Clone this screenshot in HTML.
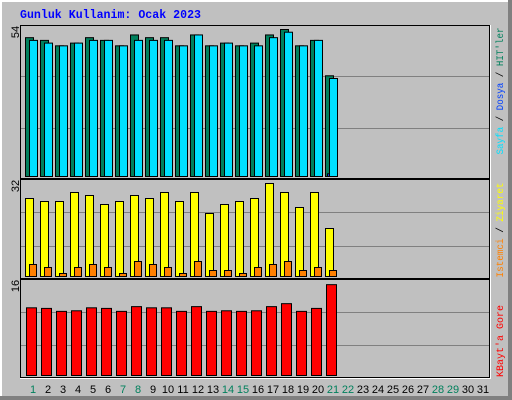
<!DOCTYPE html>
<html><head><meta charset="utf-8"><style>
html,body{margin:0;padding:0;background:#c0c0c0;}
svg{display:block;}
</style></head><body>
<svg id="c" width="512" height="400" xmlns="http://www.w3.org/2000/svg">
<rect x="0" y="0" width="512" height="400" fill="#c0c0c0"/>
<rect x="0" y="0" width="512" height="2" fill="#ffffff"/>
<rect x="0" y="0" width="2" height="400" fill="#ffffff"/>
<rect x="508" y="0" width="4" height="400" fill="#808080"/>
<rect x="0" y="396" width="512" height="4" fill="#808080"/>
<text x="20" y="18" font-family="Liberation Mono, monospace" font-size="12" font-weight="bold" fill="#0000ff" textLength="181" lengthAdjust="spacingAndGlyphs">Gunluk Kullanim: Ocak 2023</text>
<g id="g"></g>
</svg>
<script>
const days = [1,2,3,4,5,6,7,8,9,10,11,12,13,14,15,16,17,18,19,20,21,22,23,24,25,26,27,28,29,30,31];
const weekendDays = [1,7,8,14,15,21,22,28,29];
const hits = [51,50,48,49,51,50,48,52,51,51,48,52,48,49,48,49,52,54,48,50,37];
const files = [50,49,48,49,50,50,48,50,50,50,48,52,48,49,48,48,51,53,48,50,36];
const pages = [0,0,0,0,0,0,0,0,0,0,0,0,0,0,0,0,0,0,0,0,1];
const visits = [26,25,25,28,27,24,25,27,26,28,25,28,21,24,25,26,31,28,23,28,16];
const sites = [4,3,1,3,4,3,1,5,4,3,1,5,2,2,1,3,4,5,2,3,2];
const kbytes = [11.4,11.3,10.8,10.9,11.4,11.3,10.8,11.6,11.4,11.4,10.8,11.6,10.8,10.9,10.8,10.9,11.6,12.1,10.8,11.3,15.3];
const maxTop = 54, maxMid = 32, maxBot = 16;

const NS = "http://www.w3.org/2000/svg";
const g = document.getElementById('g');
function mk(tag, attrs, name, parent){
  const e = document.createElementNS(NS, tag);
  for (const k in attrs) e.setAttribute(k, attrs[k]);
  
  
  (parent||g).appendChild(e);
  return e;
}
const panels = [
  {top:25, bottom:179, base:176, ymax:29, max:maxTop, label:'54', name:'hits-panel'},
  {top:179, bottom:279, base:276, ymax:180, max:maxMid, label:'32', name:'visits-panel'},
  {top:279, bottom:378, base:375, ymax:280, max:maxBot, label:'16', name:'kbytes-panel'}
];
panels.forEach(p=>{
  mk('rect',{x:20,y:p.top,width:470,height:p.bottom-p.top,fill:'#c0c0c0',stroke:'none'},p.name);
  const h=p.bottom-p.top;
  for(let k=1;k<=2;k++){
    const y=p.top+Math.round(h*k/3)+0.5;
    mk('line',{x1:21,x2:489,y1:y,y2:y,stroke:'#808080','stroke-width':1},'gridline');
  }
  mk('line',{x1:20,x2:490,y1:p.top+0.5,y2:p.top+0.5,stroke:'#000','stroke-width':1},'panel-border-top');
  mk('line',{x1:20.5,x2:20.5,y1:p.top,y2:p.bottom,stroke:'#000','stroke-width':1},'panel-border-left');
  mk('line',{x1:20,x2:491,y1:p.bottom+0.5,y2:p.bottom+0.5,stroke:'#fff','stroke-width':1},'panel-border-bottom');
  mk('line',{x1:490.5,x2:490.5,y1:p.top,y2:p.bottom,stroke:'#fff','stroke-width':1},'panel-border-right');
  mk('line',{x1:20,x2:490,y1:p.bottom-0.5,y2:p.bottom-0.5,stroke:'#000','stroke-width':1},'panel-border-bottom-inner');
  mk('line',{x1:489.5,x2:489.5,y1:p.top,y2:p.bottom,stroke:'#000','stroke-width':1},'panel-border-right-inner');
  const t=mk('text',{x:0,y:0,transform:`translate(19,${p.top+7}) rotate(-90)`,'font-family':'Liberation Sans, sans-serif','font-size':'11',fill:'#000','text-anchor':'middle'},'y-max-label');
  t.textContent=p.label;
});
function yOf(p,v){return p.base-(p.base-p.ymax)*v/p.max;}
function bar(x,w,p,v,fill,name){
  if(v<=0) return;
  const y=yOf(p,v);
  mk('rect',{x:x+0.5,y:y+0.5,width:w,height:p.base-y,fill:fill,stroke:'#000','stroke-width':1},name);
}
hits.forEach((v,i)=>{
  const x=25+i*15;
  bar(x,8,panels[0],v,'#00805c','hits-bar');
  bar(x+4,8,panels[0],files[i],'#00e0ff','files-bar');
  if(pages[i]>0) bar(x+2,2,panels[0],pages[i],'#0040ff','pages-bar');
  bar(x,8,panels[1],visits[i],'#ffff00','visits-bar');
  bar(x+4,7,panels[1],sites[i],'#ff8000','sites-bar');
  bar(x+1,10,panels[2],kbytes[i],'#ff0000','kbytes-bar');
});
days.forEach((d,i)=>{
  const t=mk('text',{x:33+i*15,y:393,'font-family':'Liberation Sans, sans-serif','font-size':'11','text-anchor':'middle',fill:weekendDays.includes(d)?'#00805c':'#000'},'x-tick-label');
  t.textContent=String(d);
});
function vlabel(yc,len,parts,name){
  const t=mk('text',{x:0,y:0,transform:`translate(503,${yc}) rotate(-90)`,'font-family':'Liberation Mono, monospace','font-size':'10','text-anchor':'middle',textLength:len,lengthAdjust:'spacingAndGlyphs'},name);
  parts.forEach(([s,c])=>{const ts=document.createElementNS(NS,'tspan');ts.setAttribute('fill',c);ts.textContent=s;t.appendChild(ts);});
}
vlabel(91,127,[["Sayfa","#00e0ff"],[" / ","#000"],["Dosya","#0040ff"],[" / ","#000"],["HIT'ler","#00805c"]],'hits-legend');
vlabel(230,95,[["Istemci","#ff8000"],[" / ","#000"],["Ziyaret","#ffff00"]],'visits-legend');
vlabel(341,72,[["KBayt'a Gore","#ff0000"]],'kbytes-legend');
</script>
</body></html>
